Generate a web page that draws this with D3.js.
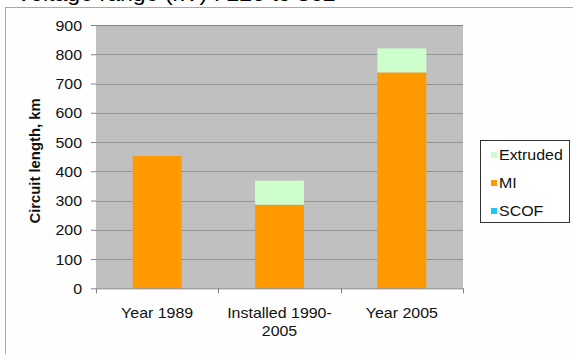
<!DOCTYPE html>
<html>
<head>
<meta charset="utf-8">
<script src="https://cdn.jsdelivr.net/npm/d3@7/dist/d3.min.js"></script>
<style>
  html, body { margin: 0; padding: 0; background: #ffffff; }
  svg { display: block; font-family: "Liberation Sans", Arial, sans-serif; }
</style>
</head>
<body>
<svg id="chart" width="573" height="354"></svg>
<script>
// Circuit length by cable type
const categories = ["Year 1989", "Installed 1990-2005", "Year 2005"];
const categoryLines = [["Year 1989"], ["Installed 1990-", "2005"], ["Year 2005"]];
const seriesNames = ["SCOF", "MI", "Extruded"];
const scofValues = [0, 0, 0];
const miValues = [452, 286, 738];
const extrudedValues = [0, 82, 82];
const yTicks = [0, 100, 200, 300, 400, 500, 600, 700, 800, 900];
const legendOrder = ["Extruded", "MI", "SCOF"];
const titleText = "Voltage range (kV) : 220 to 362";
const yAxisTitle = "Circuit length, km";

const colors = { SCOF: "#1ec8f5", MI: "#ff9900", Extruded: "#ccffcc" };
const SX = 1.14; // horizontal text stretch

const svg = d3.select("#chart");
const plot = { left: 96, right: 463, top: 25, bottom: 288.3 };

// outer chart frame
svg.append("rect").attr("x", 5.5).attr("y", 7.5).attr("width", 600).attr("height", 400)
  .attr("fill", "#fefefe").attr("stroke", "#a8a8a8").attr("stroke-width", 1);

// slide title, running off the top edge
svg.append("text").text(titleText)
  .attr("font-size", 21).attr("fill", "#000")
  .attr("transform", `translate(16,1) scale(1.1,1)`);

const table = categories.map((c, i) => ({
  category: c, SCOF: scofValues[i], MI: miValues[i], Extruded: extrudedValues[i]
}));

const x = d3.scaleBand().domain(categories).range([plot.left, plot.right])
  .paddingInner(0.6).paddingOuter(0.3);
const y = d3.scaleLinear().domain([0, 900]).range([plot.bottom, plot.top]);

// plot background
svg.append("rect").attr("x", plot.left).attr("y", plot.top)
  .attr("width", plot.right - plot.left).attr("height", plot.bottom - plot.top)
  .attr("fill", "#c0c0c0");

// gridlines
svg.append("g").selectAll("line").data(yTicks.filter(t => t > 0)).join("line")
  .attr("x1", plot.left).attr("x2", plot.right)
  .attr("y1", d => Math.round(y(d)) + 0.5).attr("y2", d => Math.round(y(d)) + 0.5)
  .attr("stroke", d => d === 900 ? "#858585" : "#959595").attr("stroke-width", 1);

// stacked bars
const stacked = d3.stack().keys(seriesNames)(table);
svg.append("g").selectAll("g").data(stacked).join("g")
  .attr("fill", d => colors[d.key])
  .selectAll("rect").data(d => d).join("rect")
  .attr("x", d => x(d.data.category))
  .attr("width", x.bandwidth())
  .attr("y", d => y(d[1]))
  .attr("height", d => y(d[0]) - y(d[1]));

// y axis
const yAxis = svg.append("g").attr("transform", `translate(${plot.left},0)`)
  .call(d3.axisLeft(y).tickValues(yTicks).tickSize(5).tickSizeOuter(0));
yAxis.select(".domain").remove();
yAxis.selectAll(".tick line").attr("stroke", "#808080");
yAxis.selectAll(".tick text")
  .attr("x", 0).attr("dy", null).attr("y", 0)
  .attr("font-size", 14).attr("font-family", "Liberation Sans, Arial, sans-serif")
  .attr("fill", "#111")
  .attr("transform", `translate(-14,5) scale(${SX},1)`);

// x axis
const xAxis = svg.append("g").attr("transform", `translate(0,${plot.bottom})`)
  .call(d3.axisBottom(x).tickSize(0).tickSizeOuter(0).tickFormat(""));
xAxis.select(".domain").attr("stroke", "#808080");
const bounds = categories.map(c => x(c) - x.step() * x.paddingInner() / 2).concat([plot.right]);
xAxis.append("g").selectAll("line").data(bounds).join("line")
  .attr("x1", d => Math.round(d) + 0.5).attr("x2", d => Math.round(d) + 0.5)
  .attr("y1", 0).attr("y2", 5).attr("stroke", "#808080");
xAxis.selectAll(".tick").each(function(d, i) {
  const g = d3.select(this);
  categoryLines[i].forEach((line, j) => {
    g.append("text").text(line)
      .attr("text-anchor", "middle").attr("fill", "#111")
      .attr("font-size", 14).attr("font-family", "Liberation Sans, Arial, sans-serif")
      .attr("transform", `translate(0,${30 + j * 18}) scale(${SX},1)`);
  });
});

// y axis title
svg.append("text").text(yAxisTitle)
  .attr("text-anchor", "middle").attr("font-weight", "bold")
  .attr("font-size", 14).attr("fill", "#111")
  .attr("transform", `translate(40,161) rotate(-90) scale(1.06,1)`);

// legend
const legend = svg.append("g");
legend.append("rect").attr("x", 480.5).attr("y", 140.5).attr("width", 89).attr("height", 82)
  .attr("fill", "#ffffff").attr("stroke", "#333").attr("stroke-width", 1);
const rows = legend.selectAll("g.item").data(legendOrder).join("g")
  .attr("class", "item")
  .attr("transform", (d, i) => `translate(0,${155 + i * 28})`);
rows.append("rect").attr("x", 491).attr("y", -3).attr("width", 6).attr("height", 6)
  .attr("fill", d => colors[d]);
rows.append("text").text(d => d)
  .attr("font-size", 14).attr("fill", "#111")
  .attr("transform", `translate(499,5) scale(${SX},1)`);
</script>
</body>
</html>
